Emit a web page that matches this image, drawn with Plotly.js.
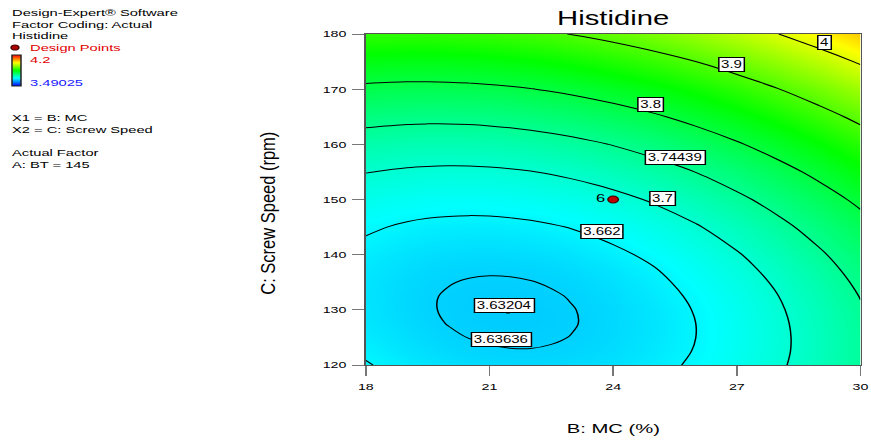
<!DOCTYPE html>
<html>
<head>
<meta charset="utf-8">
<script src="https://cdn.plot.ly/plotly-3.0.1.min.js"></script>
<style>
html,body{margin:0;padding:0;overflow:hidden;background:#fff;width:871px;height:441px}
#chart{width:581px;height:441px;transform:scaleX(1.49914);transform-origin:0 0}
</style>
</head>
<body>
<div id="chart"></div>
<script>
// ---- data ----
const mc = [18, 19, 19.5, 20, 20.5, 21, 21.5, 22, 22.5, 23, 23.5, 24, 25, 26, 27, 28, 29, 30];
const speed = [120, 122.5, 125, 127.5, 130, 132.5, 135, 137.5, 140, 145, 150, 155, 160, 165, 170, 175, 180];
const histidine = [
  [3.6638,3.6536,3.6496,3.6464,3.6439,3.6422,3.6412,3.6409,3.6414,3.6426,3.6446,3.6473,3.6549,3.6656,3.6792,3.6957,3.7153,3.7378],
  [3.6583,3.6485,3.6447,3.6417,3.6394,3.6378,3.6370,3.6369,3.6376,3.6390,3.6412,3.6441,3.6521,3.6631,3.6771,3.6940,3.7139,3.7368],
  [3.6541,3.6447,3.6411,3.6382,3.6361,3.6347,3.6341,3.6342,3.6351,3.6367,3.6390,3.6421,3.6505,3.6619,3.6762,3.6936,3.7139,3.7371],
  [3.6512,3.6421,3.6387,3.6360,3.6341,3.6329,3.6325,3.6328,3.6338,3.6356,3.6381,3.6414,3.6502,3.6619,3.6767,3.6944,3.7150,3.7387],
  [3.6494,3.6408,3.6375,3.6351,3.6333,3.6323,3.6321,3.6326,3.6338,3.6358,3.6385,3.6419,3.6511,3.6632,3.6783,3.6964,3.7174,3.7415],
  [3.6490,3.6407,3.6376,3.6353,3.6338,3.6330,3.6329,3.6336,3.6350,3.6372,3.6401,3.6437,3.6533,3.6658,3.6812,3.6997,3.7211,3.7455],
  [3.6497,3.6418,3.6390,3.6369,3.6355,3.6349,3.6350,3.6359,3.6375,3.6398,3.6429,3.6468,3.6567,3.6696,3.6854,3.7042,3.7260,3.7508],
  [3.6518,3.6442,3.6416,3.6396,3.6385,3.6380,3.6384,3.6394,3.6412,3.6437,3.6470,3.6511,3.6613,3.6746,3.6908,3.7100,3.7322,3.7573],
  [3.6550,3.6479,3.6454,3.6437,3.6427,3.6424,3.6429,3.6442,3.6462,3.6489,3.6524,3.6566,3.6673,3.6809,3.6975,3.7171,3.7396,3.7651],
  [3.6653,3.6589,3.6568,3.6555,3.6549,3.6550,3.6559,3.6575,3.6599,3.6630,3.6668,3.6714,3.6828,3.6972,3.7146,3.7349,3.7582,3.7845],
  [3.6806,3.6750,3.6732,3.6723,3.6720,3.6726,3.6738,3.6758,3.6785,3.6820,3.6862,3.6912,3.7034,3.7185,3.7366,3.7577,3.7818,3.8088],
  [3.7009,3.6960,3.6947,3.6941,3.6942,3.6951,3.6967,3.6991,3.7022,3.7061,3.7107,3.7160,3.7289,3.7448,3.7637,3.7855,3.8103,3.8381],
  [3.7262,3.7220,3.7211,3.7209,3.7214,3.7226,3.7246,3.7274,3.7309,3.7351,3.7401,3.7458,3.7595,3.7761,3.7958,3.8183,3.8439,3.8724],
  [3.7565,3.7531,3.7525,3.7526,3.7535,3.7552,3.7576,3.7607,3.7646,3.7692,3.7745,3.7806,3.7950,3.8124,3.8328,3.8561,3.8825,3.9117],
  [3.7918,3.7891,3.7889,3.7894,3.7907,3.7927,3.7955,3.7990,3.8032,3.8082,3.8139,3.8204,3.8356,3.8537,3.8749,3.8989,3.9260,3.9561],
  [3.8320,3.8301,3.8303,3.8312,3.8328,3.8352,3.8384,3.8422,3.8469,3.8522,3.8583,3.8652,3.8811,3.9000,3.9219,3.9467,3.9746,4.0054],
  [3.8773,3.8761,3.8767,3.8780,3.8800,3.8828,3.8863,3.8905,3.8955,3.9013,3.9077,3.9150,3.9317,3.9513,3.9739,3.9995,4.0281,4.0596]
];
const levels = [3.63636, 3.662, 3.7, 3.74439, 3.8, 3.9, 4];
const levelText = ['3.63636', '3.662', '3.7', '3.74439', '3.8', '3.9', '4'];
const minPoint = {mc: 21.45, speed: 129.55, text: '3.63204'};
const designMC = [24];
const designSpeed = [150];
const designCount = ['6'];
const colorMin = 3.49025;
const colorMax = 4.2;
const mcTicks = [18, 21, 24, 27, 30];
const speedTicks = [120, 130, 140, 150, 160, 170, 180];
const legendLines = ['Design-Expert® Software', 'Factor Coding: Actual', 'Histidine'];
const factorLines = ['X1 = B: MC', 'X2 = C: Screw Speed'];
const actualLines = ['Actual Factor', 'A: BT = 145'];

// ---- layout helpers (positions in unscaled page pixels) ----
const W = 581, H = 441, L = 244, R = 7, T = 34, B = 76;
const PW = W - L - R, PH = H - T - B;
const px = p => (p - L) / PW;
const py = q => (H - B - q) / PH;
const FONT = '"Liberation Sans", Arial, Helvetica, sans-serif';
const YTITLE_X = 178.8;

// label spots for contour labels (MC, speed), same order as levels
const labelSpots = [[21.30, 124.68], [23.72, 144.17], [25.2, 150.1], [25.52, 157.58], [24.92, 167.3], [26.87, 174.44], [29.14, 178.55]];

const colorscale = [[0, 'rgb(0,0,255)'], [0.25, 'rgb(0,255,255)'], [0.5, 'rgb(0,255,0)'], [0.75, 'rgb(255,255,0)'], [1, 'rgb(255,0,0)']];

const traces = [];
traces.push({
  type: 'heatmap', x: mc, y: speed, z: histidine, zsmooth: 'best',
  zmin: colorMin, zmax: colorMax, colorscale: colorscale, hoverinfo: 'skip',
  colorbar: {x: px(8), xanchor: 'left', y: py(70.5), yanchor: 'middle', len: 31, lenmode: 'pixels',
    thickness: 6, thicknessmode: 'pixels', xpad: 0, ypad: 0, outlinewidth: 1, outlinecolor: '#222',
    showticklabels: false, ticks: ''}
});
levels.forEach(lv => {
  traces.push({
    type: 'contour', x: mc, y: speed, z: histidine, autocontour: false,
    contours: {coloring: 'none', start: lv, end: lv, size: 1, showlabels: false},
    line: {color: '#000', width: 1, smoothing: 1}, showscale: false, hoverinfo: 'skip'
  });
});
traces.push({
  type: 'scatter', mode: 'markers+text', x: designMC, y: designSpeed, text: designCount,
  textposition: 'middle left', textfont: {size: 11, color: '#000', family: FONT},
  marker: {size: 7, color: '#c00000', line: {color: '#400000', width: 1}}, hoverinfo: 'skip'
});
traces.push({
  type: 'scatter', mode: 'markers', x: [minPoint.mc], y: [minPoint.speed],
  marker: {size: 2.5, symbol: 'square', color: '#000'}, hoverinfo: 'skip'
});

const ann = [];
levels.forEach((lv, i) => {
  ann.push({x: labelSpots[i][0], y: labelSpots[i][1], xref: 'x', yref: 'y', text: levelText[i], showarrow: false,
    font: {size: 10, color: '#000', family: FONT}, bgcolor: '#fff', bordercolor: '#000', borderwidth: 1, borderpad: 1});
});
ann.push({x: 21.37, y: 130.83, xref: 'x', yref: 'y', text: minPoint.text, showarrow: false,
  font: {size: 10, color: '#000', family: FONT}, bgcolor: '#fff', bordercolor: '#000', borderwidth: 1, borderpad: 1});

function txt(t, x, y, color, size, extra) {
  return Object.assign({xref: 'paper', yref: 'paper', x: px(x), y: py(y), text: t, showarrow: false,
    xanchor: 'left', yanchor: 'middle', font: {size: size || 9.8, color: color || '#000', family: FONT}}, extra || {});
}
ann.push(txt(legendLines[0], 6, 12.5));
ann.push(txt(legendLines[1], 6, 24));
ann.push(txt(legendLines[2], 6, 35.5));
ann.push(txt('Design Points', 18, 47.5, '#e00000'));
ann.push(txt(String(colorMax), 18, 59.5, '#e00000'));
ann.push(txt(String(colorMin), 18, 82, '#2020ff'));
ann.push(txt(factorLines[0], 6, 117.5));
ann.push(txt(factorLines[1], 6, 129));
ann.push(txt(actualLines[0], 6, 152.5));
ann.push(txt(actualLines[1], 6, 164.5));
// axis titles
ann.push({xref: 'paper', yref: 'paper', x: 0.5, y: py(428), text: 'B: MC (%)', showarrow: false,
  xanchor: 'center', yanchor: 'middle', font: {size: 13.5, color: '#000', family: FONT}});
const yTitleIndex = ann.length;
ann.push({xref: 'paper', yref: 'paper', x: px(YTITLE_X), y: py(213), text: 'C: Screw Speed (rpm)', showarrow: false,
  textangle: -90, xanchor: 'center', yanchor: 'middle', font: {size: 16.5, color: '#000', family: FONT}});

const layout = {
  width: W, height: H, margin: {l: L, r: R, t: T, b: B, pad: 0},
  paper_bgcolor: '#fff', plot_bgcolor: '#fff', showlegend: false,
  font: {family: FONT, color: '#000'},
  title: {text: 'Histidine', font: {size: 19.5, color: '#000', family: FONT}, x: 0.5, xref: 'paper', xanchor: 'center',
    y: 1 - 18 / H, yref: 'container', yanchor: 'middle'},
  xaxis: {range: [18, 30], tickvals: mcTicks, ticktext: mcTicks.map(String), ticks: 'outside', ticklen: 10, tickwidth: 1,
    tickcolor: '#777', showline: true, linecolor: '#555', linewidth: 1, mirror: true, showgrid: false, zeroline: false,
    tickfont: {size: 9.5, color: '#000'}, ticklabelstandoff: 3, fixedrange: true},
  yaxis: {range: [120, 180], tickvals: speedTicks, ticktext: speedTicks.map(String), ticks: 'outside', ticklen: 8, tickwidth: 1,
    tickcolor: '#777', showline: true, linecolor: '#555', linewidth: 1, mirror: true, showgrid: false, zeroline: false,
    tickfont: {size: 9.5, color: '#000'}, ticklabelstandoff: 2, fixedrange: true},
  annotations: ann,
  shapes: [{type: 'circle', xref: 'paper', yref: 'paper', x0: px(10 - 2.6), x1: px(10 + 2.6), y0: py(47.5 + 2.5), y1: py(47.5 - 2.5),
    fillcolor: '#b00000', line: {color: '#400000', width: 1}}]
};

Plotly.newPlot('chart', traces, layout, {staticPlot: true, displayModeBar: false}).then(gd => {
  // the rotated axis title is narrower across in the reference: compress it horizontally about its centre
  const g = gd.querySelectorAll('.annotation')[yTitleIndex];
  if (g && !g.getAttribute('transform')) {
    g.setAttribute('transform', 'translate(' + YTITLE_X + ',0) scale(0.8,1) translate(' + (-YTITLE_X) + ',0)');
  }
});
</script>
</body>
</html>
